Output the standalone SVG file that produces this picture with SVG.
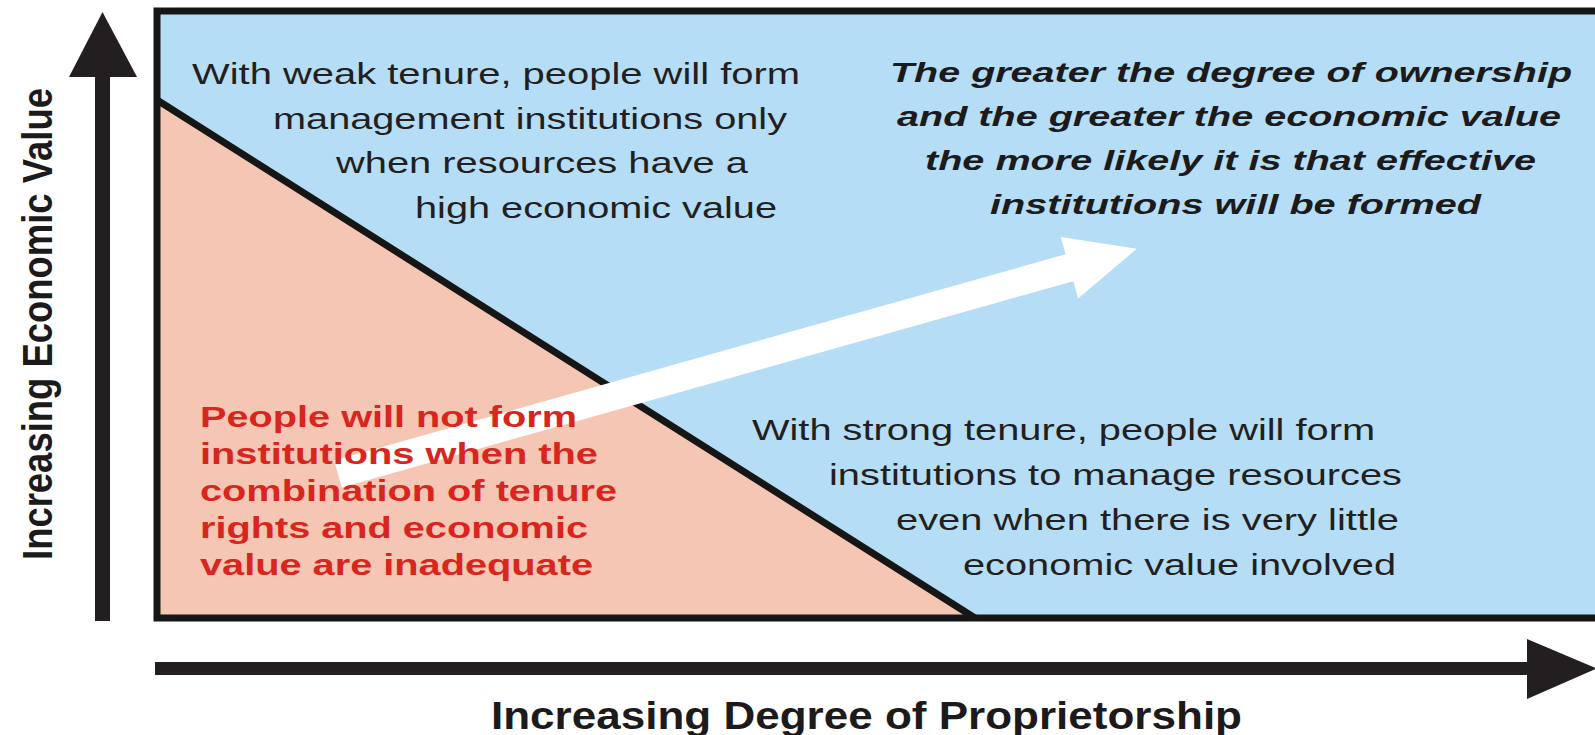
<svg xmlns="http://www.w3.org/2000/svg" width="1595" height="735" viewBox="0 0 1595 735">
<style>
  .reg { font-family: "Liberation Sans", Arial, sans-serif; font-size: 29px; fill: #231f20; }
  .bi { font-family: "Liberation Sans", Arial, sans-serif; font-size: 28px; font-weight: bold; font-style: italic; fill: #1c1a1b; }
  .red { font-family: "Liberation Sans", Arial, sans-serif; font-size: 30px; font-weight: bold; fill: #d8261e; }
  .axis { font-family: "Liberation Sans", Arial, sans-serif; font-weight: bold; fill: #1c1a1b; }
  .ink { fill: #231f20; }
</style>
<rect width="1595" height="735" fill="#ffffff"/>

<g id="chart-area">
  <rect x="157" y="11" width="1450" height="607" fill="#b5ddf5"/>
  <polygon points="157,100 975,618 157,618" fill="#f4c6b3"/>
  <line x1="157" y1="100" x2="975" y2="618" stroke="#161616" stroke-width="7"/>
  <rect x="157" y="11" width="1450" height="607" fill="none" stroke="#161616" stroke-width="7"/>
</g>

<g id="connectors">
  <g id="trend-arrow" transform="translate(338,474) rotate(-15.75)">
    <polygon points="0,-14 760,-14 760,-32 830,0 760,32 760,14 0,14" fill="#ffffff"/>
  </g>
  <g id="y-axis-arrow">
    <rect class="ink" x="95" y="75" width="15" height="546"/>
    <polygon class="ink" points="102.5,12 137,77 69,77"/>
  </g>
  <g id="x-axis-arrow">
    <rect class="ink" x="155" y="662" width="1374" height="13"/>
    <polygon class="ink" points="1527,639 1597,668.5 1527,699"/>
  </g>
</g>

<g id="weak-tenure">
  <text class="reg" x="192" y="84" textLength="608" lengthAdjust="spacingAndGlyphs">With weak tenure, people will form</text>
  <text class="reg" x="273" y="128.5" textLength="514" lengthAdjust="spacingAndGlyphs">management institutions only</text>
  <text class="reg" x="336" y="173" textLength="412" lengthAdjust="spacingAndGlyphs">when resources have a</text>
  <text class="reg" x="415" y="217.5" textLength="362" lengthAdjust="spacingAndGlyphs">high economic value</text>
</g>

<g id="ownership-note">
  <text class="bi" x="890" y="82" textLength="682" lengthAdjust="spacingAndGlyphs">The greater the degree of ownership</text>
  <text class="bi" x="897" y="126" textLength="664" lengthAdjust="spacingAndGlyphs">and the greater the economic value</text>
  <text class="bi" x="925" y="170" textLength="611" lengthAdjust="spacingAndGlyphs">the more likely it is that effective</text>
  <text class="bi" x="990" y="214" textLength="491" lengthAdjust="spacingAndGlyphs">institutions will be formed</text>
</g>

<g id="strong-tenure">
  <text class="reg" x="752" y="440" textLength="623" lengthAdjust="spacingAndGlyphs">With strong tenure, people will form</text>
  <text class="reg" x="829" y="485" textLength="573" lengthAdjust="spacingAndGlyphs">institutions to manage resources</text>
  <text class="reg" x="896" y="530" textLength="503" lengthAdjust="spacingAndGlyphs">even when there is very little</text>
  <text class="reg" x="963" y="575" textLength="433" lengthAdjust="spacingAndGlyphs">economic value involved</text>
</g>

<g id="no-institutions">
  <text class="red" x="200" y="427" textLength="377" lengthAdjust="spacingAndGlyphs">People will not form</text>
  <text class="red" x="200" y="464" textLength="398" lengthAdjust="spacingAndGlyphs">institutions when the</text>
  <text class="red" x="200" y="501" textLength="417" lengthAdjust="spacingAndGlyphs">combination of tenure</text>
  <text class="red" x="200" y="538" textLength="388" lengthAdjust="spacingAndGlyphs">rights and economic</text>
  <text class="red" x="200" y="575" textLength="393" lengthAdjust="spacingAndGlyphs">value are inadequate</text>
</g>

<g id="y-axis-label">
  <text class="axis" font-size="43" transform="translate(52,560) rotate(-90)" x="0" y="0" textLength="472" lengthAdjust="spacingAndGlyphs">Increasing Economic Value</text>
</g>

<g id="x-axis-label">
  <text class="axis" font-size="38" x="491" y="729" textLength="751" lengthAdjust="spacingAndGlyphs">Increasing Degree of Proprietorship</text>
</g>
</svg>
